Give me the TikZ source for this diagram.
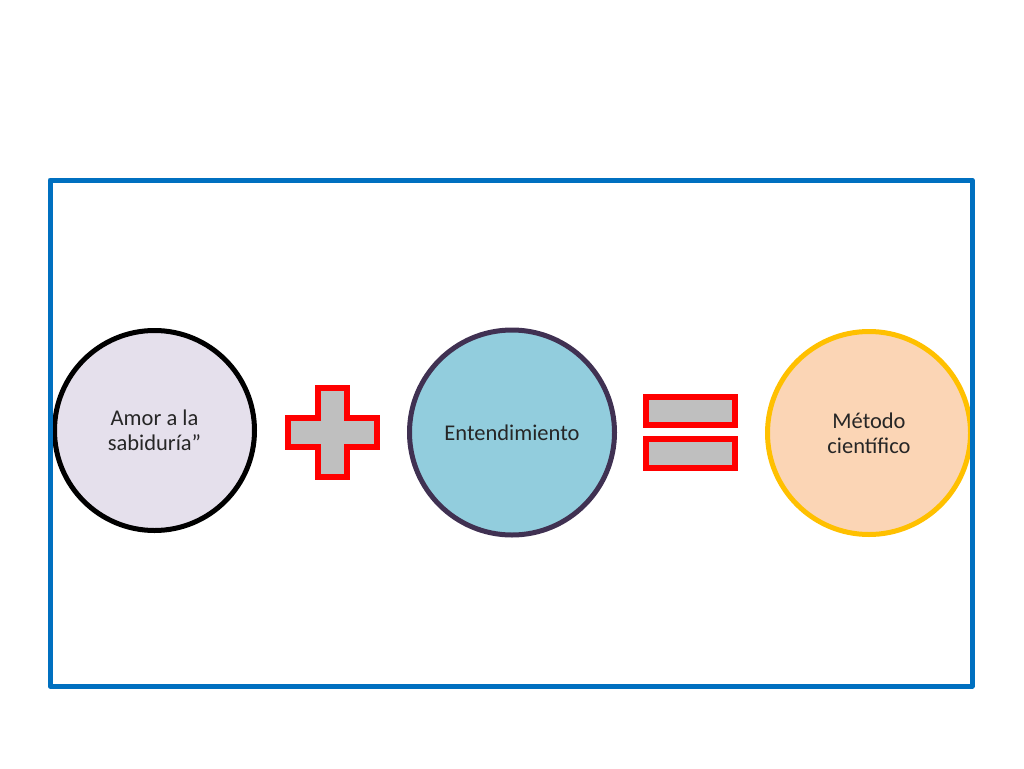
\documentclass[tikz,border=0pt]{standalone}
\usepackage{fontspec}
\setmainfont{Carlito}

\definecolor{marco}{RGB}{0,112,192}
\definecolor{lila}{RGB}{229,224,236}
\definecolor{celeste}{RGB}{146,205,221}
\definecolor{morado}{RGB}{64,49,82}
\definecolor{durazno}{RGB}{251,213,181}
\definecolor{dorado}{RGB}{255,192,0}
\definecolor{gris}{RGB}{191,191,191}

\tikzset{
  circulo/.style={circle,minimum size=200pt,line width=5pt,align=center,
    font=\fontsize{22.5}{25}\selectfont,text=black!85},
  signo/.style={fill=gris,draw=red,line width=6pt,line join=miter}
}

\begin{document}
\begin{tikzpicture}[line cap=round,line join=round,x=1pt,y=-1pt]

	\useasboundingbox (0,0) rectangle (1024,768);

	%circulos
	\node[circulo,draw=black,fill=lila] (amor) at (154.5,430.5) {Amor a la\\sabidur\'ia''};
	\node[circulo,draw=morado,fill=celeste,minimum size=205pt] (entend) at (512,432.5) {Entendimiento};
	\node[circulo,draw=dorado,fill=durazno,minimum size=203pt] (metodo) at (869,433) {M\'etodo\\cient\'ifico};

	% signo mas
	\draw[signo] (318,388) -- (347,388) -- (347,418) -- (377,418) -- (377,447)
		-- (347,447) -- (347,477) -- (318,477) -- (318,447) -- (288,447)
		-- (288,418) -- (318,418) -- cycle;

	% signo igual
	\draw[signo] (646,397) rectangle (735,425);
	\draw[signo] (646,439) rectangle (735,468);

	%marco azul
	\draw[color=marco,line width=5pt] (50,180) rectangle (972,686);

\end{tikzpicture}
\end{document}
